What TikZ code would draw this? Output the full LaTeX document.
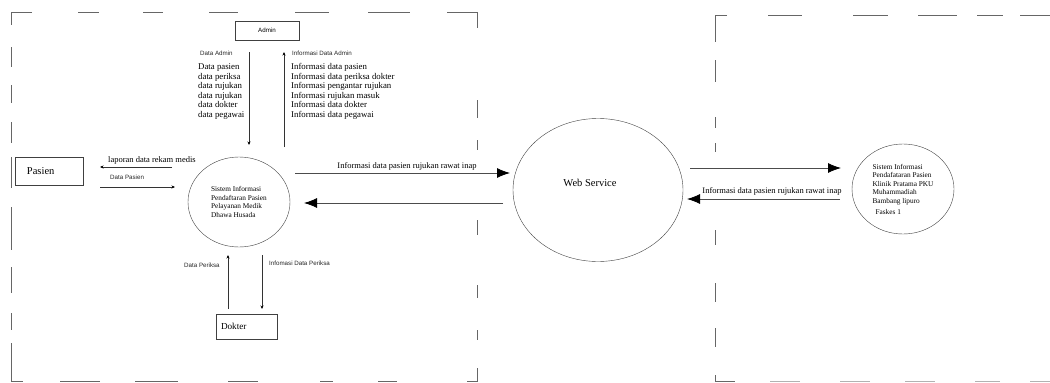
\documentclass[tikz,border=0pt]{standalone}
\usepackage{fontspec}
\setmainfont{Liberation Serif}
\setsansfont{Liberation Sans}
\usetikzlibrary{arrows.meta,shapes.geometric}
\tikzset{
	box/.style={draw=black!75,thin,rectangle,inner ysep=0pt,align=left},
	proses/.style={draw=black!75,thin,ellipse,inner sep=0pt,align=left},
	kecil/.style={font=\sffamily\fontsize{6.2}{7}\selectfont,inner sep=0pt,anchor=west,text=black!85},
	alir/.style={draw=black!80,line width=0.7pt,-{Stealth[length=3.5pt,width=3pt,black]}},
	alirbesar/.style={draw=black!70,line width=0.8pt,-{Latex[length=13pt,width=10pt,black]}},
	batas/.style={draw=black!60,line width=0.8pt}
}
\begin{document}
\begin{tikzpicture}[x=1pt,y=-1pt]
	\useasboundingbox (0,0) rectangle (1050,383);
	% batas sistem kiri
	\draw[batas] (32,12) -| (11,25);
	\draw[batas] (447,12) -| (477,28);
	\draw[batas] (11,343) |- (23,381);
	\draw[batas] (467,381) -| (477,368);
	\foreach \a/\b in {78/99,143/163,209/238,295/329,368/410}
		\draw[batas] (\a,12) -- (\b,12);
	\foreach \a/\b in {60/100,135/178,228/258,320/333,378/397}
		\draw[batas] (\a,381) -- (\b,381);
	\foreach \a/\b in {47/67,85/103,122/143,157/188,207/250,267/293,313/330}
		\draw[batas] (11,\a) -- (11,\b);
	\foreach \a/\b in {100/118,140/150,220/235,285/298,330/340}
		\draw[batas] (477,\a) -- (477,\b);
	% batas sistem kanan
	\draw[batas] (727,15) -| (715,42);
	\draw[batas] (715,375) |- (735,381);
	\foreach \a/\b in {768/802,853/888,918/957,977/1003,1020/1050}
		\draw[batas] (\a,15) -- (\b,15);
	\foreach \a/\b in {60/82,117/128,143/152,230/245,283/302,328/347}
		\draw[batas] (715,\a) -- (715,\b);
	\foreach \a/\b in {770/800,840/870,905/935,975/1000,1030/1050}
		\draw[draw=black!30,line width=0.8pt] (\a,381) -- (\b,381);

	% entitas dan proses
	\node[box,minimum width=64pt,minimum height=19pt,align=center,font=\sffamily\fontsize{6.2}{7}\selectfont] (admin) at (267,30.5) {Admin};
	\node[box,text width=44pt,inner xsep=12pt,minimum height=28pt,font=\fontsize{10.5}{12}\selectfont] (pasien) at (49,171) {Pasien};
	\node[box,text width=51pt,inner xsep=5pt,minimum height=25pt,font=\fontsize{9.2}{11}\selectfont] (dokter) at (246.5,326.5) {Dokter};
	\node[proses,minimum width=102pt,minimum height=90pt,font=\fontsize{7.3}{8.8}\selectfont] (sip) at (239,202) {Sistem Informasi\\Pendaftaran Pasien\\Pelayanan Medik\\Dhawa Husada};
	\node[proses,minimum width=170pt,minimum height=143pt] (ws) at (598,190) {};
	\node[font=\fontsize{10.5}{12}\selectfont,inner sep=0pt] (wslabel) at (590,183) {Web Service};
	\node[proses,minimum width=102pt,minimum height=90pt,font=\fontsize{7.3}{8.6}\selectfont] (klinik) at (903,189) {Sistem Informasi\\Pendafataran Pasien\\Klinik Pratama PKU\\Muhammadiah\\Bambang lipuro\\[2pt]\hspace{3pt}Faskes 1};

	% daftar data admin
	\node[kecil] (ldadmin) at (200,53) {Data Admin};
	\node[kecil] (linfoadmin) at (292,53) {Informasi Data Admin};
	\node[anchor=north west,align=left,inner sep=0pt,font=\fontsize{8.8}{9.5}\selectfont] (listdata) at (198,63.5) {Data pasien\\data periksa\\data rujukan\\data rujukan\\data dokter\\data pegawai};
	\node[anchor=north west,align=left,inner sep=0pt,font=\fontsize{8.8}{9.5}\selectfont] (listinfo) at (291,63.5) {Informasi data pasien\\Informasi data periksa dokter\\Informasi pengantar rujukan\\Informasi rujukan masuk\\Informasi data dokter\\Informasi data pegawai};

	% alur admin
	\coordinate (a1) at (249,52);
	\coordinate (a2) at (249,145);
	\coordinate (b1) at (284,147);
	\coordinate (b2) at (284,52);
	\draw[alir] (a1) -- (a2);
	\draw[alir] (b1) -- (b2);

	% alur pasien
	\coordinate (p1) at (172,167);
	\coordinate (p2) at (100,167);
	\coordinate (p3) at (100,187);
	\coordinate (p4) at (175,187);
	\draw[alir] (p1) -- (p2);
	\draw[alir] (p3) -- (p4);
	\node[anchor=west,inner sep=0pt,font=\fontsize{8.5}{10}\selectfont] (llaporan) at (108,160) {laporan data rekam medis};
	\node[kecil] (ldpasien) at (110,177) {Data Pasien};

	% alur dokter
	\coordinate (d1) at (228,309);
	\coordinate (d2) at (228,255);
	\coordinate (d3) at (262,255);
	\coordinate (d4) at (262,309);
	\draw[alir] (d1) -- (d2);
	\draw[alir] (d3) -- (d4);
	\node[kecil] (ldperiksa) at (184,265) {Data Periksa};
	\node[kecil] (linfoperiksa) at (269,263) {Infomasi Data Periksa};

	% alur web service
	\coordinate (w1) at (295,173);
	\coordinate (w2) at (510,173);
	\coordinate (w3) at (503,203);
	\coordinate (w4) at (304,203);
	\draw[alirbesar] (w1) -- (w2);
	\draw[alirbesar] (w3) -- (w4);
	\node[font=\fontsize{8.5}{10}\selectfont,inner sep=0pt] (lrujukan1) at (407,166) {Informasi data pasien rujukan rawat inap};

	\coordinate (k1) at (690,168);
	\coordinate (k2) at (841,168);
	\coordinate (k3) at (840,199);
	\coordinate (k4) at (687,199);
	\draw[alirbesar] (k1) -- (k2);
	\draw[alirbesar] (k3) -- (k4);
	\node[font=\fontsize{8.5}{10}\selectfont,inner sep=0pt] (lrujukan2) at (772,191) {Informasi data pasien rujukan rawat inap};
\end{tikzpicture}
\end{document}
